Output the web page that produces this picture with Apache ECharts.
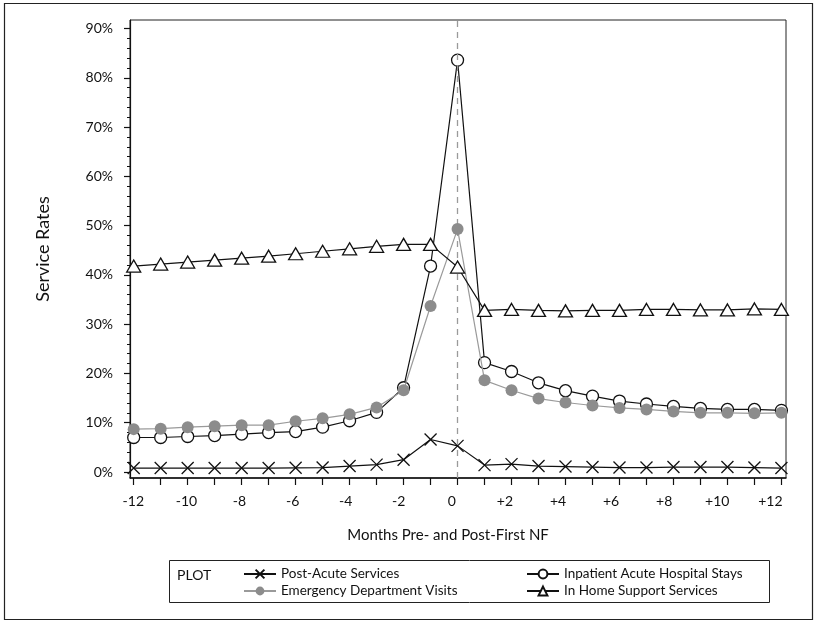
<!DOCTYPE html>
<html>
<head>
<meta charset="utf-8">
<script src="https://cdn.jsdelivr.net/npm/echarts@6/dist/echarts.min.js"></script>
<style>
html,body{margin:0;padding:0;background:#fff;}
#chart{width:817px;height:624px;}
</style>
</head>
<body>
<div id="chart"></div>
<script>
// ---- data ----
const months = [-12,-11,-10,-9,-8,-7,-6,-5,-4,-3,-2,-1,0,1,2,3,4,5,6,7,8,9,10,11,12];
const postAcute = [0.8,0.8,0.8,0.8,0.8,0.8,0.85,0.9,1.2,1.5,2.5,6.6,5.3,1.4,1.6,1.2,1.1,1.0,0.9,0.9,1.0,1.0,1.0,0.9,0.8];
const emergency = [8.7,8.8,9.1,9.3,9.5,9.5,10.3,10.9,11.7,13.1,16.6,33.7,49.3,18.6,16.6,14.9,14.1,13.5,13.0,12.7,12.3,12.0,12.0,11.9,12.0];
const inpatient = [7.0,7.0,7.2,7.4,7.7,8.0,8.2,9.1,10.4,12.1,17.1,41.8,83.6,22.2,20.4,18.1,16.5,15.4,14.4,13.8,13.3,12.9,12.7,12.7,12.5];
const homeSupport = [41.8,42.2,42.6,43.0,43.4,43.8,44.3,44.8,45.3,45.8,46.2,46.2,41.6,32.8,33.0,32.8,32.7,32.8,32.8,33.0,33.0,32.9,32.9,33.1,33.0];
const xTickLabels = [-12,-10,-8,-6,-4,-2,0,2,4,6,8,10,12];
const yTickLabels = [0,10,20,30,40,50,60,70,80,90];
const yMinorTicks = [0,2,4,6,8,10,12,14,16,18,20,22,24,26,28,30,32,34,36,38,40,42,44,46,48,50,52,54,56,58,60,62,64,66,68,70,72,74,76,78,80,82,84,86,88,90];
const seriesNames = ['Post-Acute Services','Inpatient Acute Hospital Stays','Emergency Department Visits','In Home Support Services'];
const refMonth = 0;

const FONT = 'Lato';
const pair = arr => months.map((m,i)=>[m, arr[i]]);

const chart = echarts.init(document.getElementById('chart'));
const option = {
  backgroundColor:'#fff',
  animation:false,
  textStyle:{fontFamily:FONT},
  grid:{left:130, top:20, right:31, bottom:146, show:true, borderColor:'#222', borderWidth:1, backgroundColor:'transparent'},
  xAxis:[
    {type:'value', min:-12.137, max:12.17, gridIndex:0,
     axisLine:{show:true,onZero:false,lineStyle:{color:'#111',width:1.5}},
     axisTick:{show:true, inside:false, length:7, customValues:months, lineStyle:{color:'#111',width:1.2}},
     axisLabel:{show:false}, splitLine:{show:false},
     name:'Months Pre- and Post-First NF', nameLocation:'middle', nameGap:50,
     nameTextStyle:{fontFamily:FONT, fontSize:15, color:'#111', padding:[0,20,0,0]}},
    {type:'value', min:-12.126, max:12.59, gridIndex:0, position:'bottom',
     axisLine:{show:false,onZero:false}, axisTick:{show:false}, splitLine:{show:false},
     axisLabel:{show:true, margin:16, customValues:xTickLabels, fontFamily:FONT, fontSize:14, color:'#111',
       formatter:v=> v>0 ? '+'+v : String(v)}}
  ],
  yAxis:[
    {type:'value', min:-1.22, max:91.74,
     axisLine:{show:true,onZero:false,lineStyle:{color:'#111',width:1.2}},
     axisTick:{show:true, length:6, customValues:yTickLabels, lineStyle:{color:'#111',width:1.2}},
     axisLabel:{show:true, margin:17, customValues:yTickLabels, formatter:'{value}%', fontFamily:FONT, fontSize:14, color:'#111'},
     splitLine:{show:false},
     name:'Service Rates', nameLocation:'middle', nameGap:78, nameRotate:90,
     nameTextStyle:{fontFamily:FONT, fontSize:18, color:'#111'}},
    {type:'value', min:-1.22, max:91.74, position:'left', offset:0,
     axisLine:{show:false,onZero:false}, axisLabel:{show:false}, splitLine:{show:false},
     axisTick:{show:true, length:3, customValues:yMinorTicks, lineStyle:{color:'#111',width:1}}}
  ],
  legend:[
    {orient:'vertical', left:243, top:567, padding:0, itemWidth:32, itemHeight:11, itemGap:3,
     data:[seriesNames[0], seriesNames[2]],
     textStyle:{fontFamily:FONT, fontSize:13.5, color:'#111'}},
    {orient:'vertical', left:526, top:567, padding:0, itemWidth:32, itemHeight:11, itemGap:3,
     data:[seriesNames[1], seriesNames[3]],
     textStyle:{fontFamily:FONT, fontSize:13.5, color:'#111'}}
  ],
  graphic:[
    {type:'rect', shape:{x:4.5,y:3.5,width:808,height:616}, style:{fill:'none',stroke:'#222',lineWidth:1.2}, silent:true},
    {type:'rect', shape:{x:169.5,y:560.5,width:600,height:42}, style:{fill:'none',stroke:'#222',lineWidth:1}, silent:true},
    {type:'text', left:177, top:568, style:{text:'PLOT', fontFamily:FONT, fontSize:14, fill:'#111'}, silent:true}
  ],
  series:[
    {name:'ref', type:'line', data:[], silent:true, z:1,
     markLine:{silent:true, symbol:'none', label:{show:false}, animation:false,
       lineStyle:{color:'#9a9a9a', type:[6,5], width:1.3, opacity:1},
       emphasis:{disabled:true},
       data:[{xAxis:refMonth}]}},
    {name:seriesNames[0], type:'line', data:pair(postAcute), z:3,
     symbol:'path://M0,0L10,10M10,0L0,10', symbolSize:12,
     itemStyle:{color:'rgba(0,0,0,0)', borderColor:'#111', borderWidth:1.3},
     lineStyle:{color:'#111', width:1.2}},
    {name:seriesNames[1], type:'line', data:pair(inpatient), z:4,
     symbol:'circle', symbolSize:12,
     itemStyle:{color:'#fff', borderColor:'#111', borderWidth:1.3},
     lineStyle:{color:'#111', width:1.2}},
    {name:seriesNames[2], type:'line', data:pair(emergency), z:5,
     symbol:'circle', symbolSize:12,
     itemStyle:{color:'#8c8c8c', borderColor:'#8c8c8c', borderWidth:0},
     lineStyle:{color:'#9a9a9a', width:1.2}},
    {name:seriesNames[3], type:'line', data:pair(homeSupport), z:6,
     symbol:'triangle', symbolSize:[14,12],
     itemStyle:{color:'#fff', borderColor:'#111', borderWidth:1.3},
     lineStyle:{color:'#111', width:1.2}}
  ]
};
chart.setOption(option);
</script>
</body>
</html>
